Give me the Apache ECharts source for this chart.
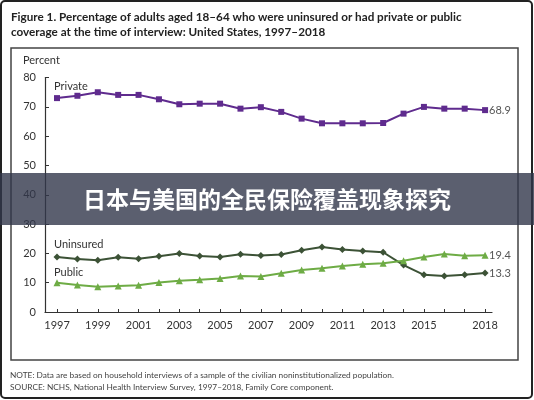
<!DOCTYPE html>
<html>
<head>
<meta charset="utf-8">
<script src="https://cdn.jsdelivr.net/npm/echarts@6/dist/echarts.min.js"></script>
<style>
html,body{margin:0;padding:0;background:#fff;}
#c{width:534px;height:400px;}
</style>
</head>
<body>
<div id="c"></div>
<script>
const years = [1997,1998,1999,2000,2001,2002,2003,2004,2005,2006,2007,2008,2009,2010,2011,2012,2013,2014,2015,2016,2017,2018];
const privateVals = [73.0,73.8,75.0,74.1,74.1,72.6,70.9,71.1,71.1,69.4,69.9,68.3,66.0,64.4,64.4,64.4,64.5,67.7,70.0,69.4,69.4,68.9];
const uninsuredVals = [18.8,18.1,17.7,18.7,18.2,19.0,20.0,19.1,18.8,19.7,19.3,19.6,21.1,22.2,21.3,20.8,20.4,16.0,12.7,12.3,12.7,13.3];
const publicVals = [10.0,9.2,8.6,8.9,9.1,10.1,10.7,11.0,11.4,12.3,12.1,13.2,14.3,14.9,15.7,16.3,16.6,17.5,18.8,19.8,19.2,19.4];
const xLabelYears = [1997,1999,2001,2003,2005,2007,2009,2011,2013,2015,2018];
const yTicks = [0,10,20,30,40,50,60,70,80];
const titleLines = ['Figure 1. Percentage of adults aged 18\u201364 who were uninsured or had private or public', 'coverage at the time of interview: United States, 1997\u20132018'];
const noteLines = ['NOTE: Data are based on household interviews of a sample of the civilian noninstitutionalized population.', 'SOURCE: NCHS, National Health Interview Survey, 1997\u20132018, Family Core component.'];
const bannerText = '日本与美国的全民保险覆盖现象探究';

const pair = (vals) => years.map((y, i) => [y, vals[i]]);
const chart = echarts.init(document.getElementById('c'), null, {renderer: 'canvas'});
const F = 'Lato, "Open Sans", sans-serif';

function mkSeries(name, vals, color, symbol, size) {
  return {
    name: name, type: 'line', data: pair(vals),
    symbol: symbol, symbolSize: size, showAllSymbol: true,
    lineStyle: {color: color, width: 2},
    itemStyle: {color: color},
    endLabel: {show: true, color: '#555', fontFamily: F, fontSize: 11, distance: 4,
      formatter: (p) => p.value[1].toFixed(1)},
    emphasis: {disabled: true}, animation: false, z: 3
  };
}

chart.setOption({
  animation: false,
  grid: {left: 45, right: 42, top: 77.6, bottom: 88},
  xAxis: {
    type: 'value', min: 1996.41, max: 2018.34,
    splitLine: {show: false},
    axisLine: {show: true, lineStyle: {color: '#333', width: 1.2}},
    axisTick: {show: true, inside: true, length: 3, customValues: years, lineStyle: {color: '#333'}},
    axisLabel: {customValues: xLabelYears, color: '#333', fontFamily: F, fontSize: 11, margin: 8, formatter: (v) => String(v)}
  },
  yAxis: {
    type: 'value', min: 0, max: 80, interval: 10,
    splitLine: {show: false},
    axisLine: {show: true, lineStyle: {color: '#333', width: 1.2}},
    axisTick: {show: true, inside: true, length: 4, lineStyle: {color: '#333'}},
    axisLabel: {color: '#333', fontFamily: F, fontSize: 11, margin: 9, customValues: yTicks}
  },
  series: [
    mkSeries('Private', privateVals, '#5f2b8e', 'rect', 6),
    mkSeries('Uninsured', uninsuredVals, '#3c5236', 'diamond', 7),
    mkSeries('Public', publicVals, '#6eac45', 'triangle', 7)
  ],
  graphic: [
    {type: 'rect', shape: {x: 1, y: 1, width: 531, height: 397, r: 4}, style: {fill: 'none', stroke: '#222', lineWidth: 2}, z: 1},
    {type: 'rect', shape: {x: 11, y: 48, width: 507, height: 312}, style: {fill: 'none', stroke: '#444', lineWidth: 1.5}, z: 1},
    {type: 'text', x: 11, y: 10, style: {text: titleLines.join('\n'), font: 'bold 11.7px ' + F, fill: '#222', lineHeight: 15}, z: 2},
    {type: 'text', x: 23, y: 55, style: {text: 'Percent', font: '11px ' + F, fill: '#333'}, z: 2},
    {type: 'text', x: 54, y: 81, style: {text: 'Private', font: '11px ' + F, fill: '#333'}, z: 2},
    {type: 'text', x: 54, y: 239, style: {text: 'Uninsured', font: '11px ' + F, fill: '#333'}, z: 2},
    {type: 'text', x: 54, y: 267, style: {text: 'Public', font: '11px ' + F, fill: '#333'}, z: 2},
    {type: 'text', x: 10, y: 369, style: {text: noteLines.join('\n'), font: '8.3px ' + F, fill: '#444', lineHeight: 12}, z: 2},
    {type: 'rect', shape: {x: 0, y: 173, width: 534, height: 52}, style: {fill: 'rgba(50,55,75,0.8)'}, z: 10},
    {type: 'text', x: 267, y: 199, style: {text: bannerText, font: 'bold 23px "Noto Sans CJK SC"', fill: '#fff', align: 'center', verticalAlign: 'middle'}, z: 11}
  ]
});
</script>
</body>
</html>
